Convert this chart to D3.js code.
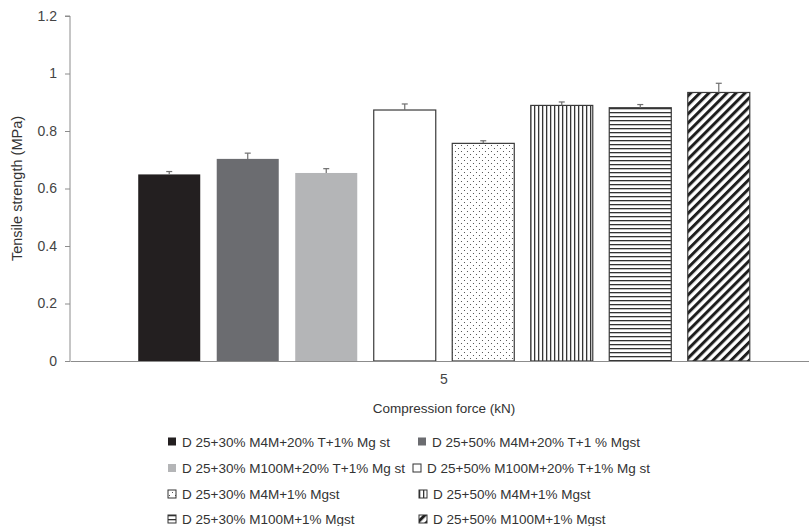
<!DOCTYPE html>
<html>
<head>
<meta charset="utf-8">
<script src="https://cdn.jsdelivr.net/npm/d3@7"></script>
<style>
  html, body { margin: 0; padding: 0; background: #fff; }
  svg { display: block; font-family: "Liberation Sans", Arial, sans-serif; }
</style>
</head>
<body>
<svg id="chart" width="809" height="526"></svg>
<script>
// Tensile strength at 5 kN compression force for eight formulations
const categories = ["5"];
const series = [
  "D 25+30% M4M+20% T+1% Mg st",
  "D 25+50% M4M+20% T+1 % Mgst",
  "D 25+30% M100M+20% T+1% Mg st",
  "D 25+50% M100M+20% T+1% Mg st",
  "D 25+30% M4M+1% Mgst",
  "D 25+50% M4M+1% Mgst",
  "D 25+30% M100M+1% Mgst",
  "D 25+50% M100M+1% Mgst"
];
const values = [0.649, 0.703, 0.654, 0.873, 0.757, 0.889, 0.881, 0.934];
const errors = [0.010, 0.020, 0.015, 0.021, 0.009, 0.012, 0.011, 0.032];
const yTicks = [0, 0.2, 0.4, 0.6, 0.8, 1, 1.2];
const yTickLabels = ["0", "0.2", "0.4", "0.6", "0.8", "1", "1.2"];

// fill per series: solid greys, then pattern ids
const fills = ["#231f20", "#6b6c70", "#b4b5b7", "#ffffff",
               "url(#pDots)", "url(#pVert)", "url(#pHoriz)", "url(#pDiag)"];
const outlined = [false, false, false, true, true, true, true, true];

const svg = d3.select("#chart");
const defs = svg.append("defs");

// dotted fill
const pd = defs.append("pattern").attr("id", "pDots").attr("patternUnits", "userSpaceOnUse")
  .attr("width", 6).attr("height", 6);
pd.append("rect").attr("width", 6).attr("height", 6).attr("fill", "#fff");
pd.append("rect").attr("x", 1).attr("y", 1).attr("width", 1).attr("height", 1).attr("fill", "#555");
pd.append("rect").attr("x", 4).attr("y", 4).attr("width", 1).attr("height", 1).attr("fill", "#555");

// vertical lines
const pv = defs.append("pattern").attr("id", "pVert").attr("patternUnits", "userSpaceOnUse")
  .attr("width", 4).attr("height", 4);
pv.append("rect").attr("width", 4).attr("height", 4).attr("fill", "#fff");
pv.append("rect").attr("x", 0).attr("width", 1.3).attr("height", 4).attr("fill", "#333");

// horizontal lines
const ph = defs.append("pattern").attr("id", "pHoriz").attr("patternUnits", "userSpaceOnUse")
  .attr("width", 4).attr("height", 4);
ph.append("rect").attr("width", 4).attr("height", 4).attr("fill", "#fff");
ph.append("rect").attr("y", 0).attr("width", 4).attr("height", 1.3).attr("fill", "#333");

// diagonal stripes
const pg = defs.append("pattern").attr("id", "pDiag").attr("patternUnits", "userSpaceOnUse")
  .attr("width", 6.4).attr("height", 6.4).attr("patternTransform", "rotate(45)");
pg.append("rect").attr("width", 6.4).attr("height", 6.4).attr("fill", "#fff");
pg.append("rect").attr("width", 3).attr("height", 6.4).attr("fill", "#1e1e1e");

// scales
const plotLeft = 70, plotRight = 818, plotTop = 16, plotBottom = 361;
const y = d3.scaleLinear().domain([0, 1.2]).range([plotBottom, plotTop]);
const x0 = d3.scaleBand().domain(categories).range([plotLeft, plotRight])
  .paddingInner(0).paddingOuter(0.0955);
const x1 = d3.scaleBand().domain(d3.range(series.length)).range([0, x0.bandwidth()])
  .paddingInner(0.21).paddingOuter(0.105);

// y axis
const yAxis = d3.axisLeft(y).tickValues(yTicks)
  .tickFormat((d, i) => yTickLabels[i]).tickSize(5).tickPadding(8);
const gy = svg.append("g").attr("transform", `translate(${plotLeft},0)`).call(yAxis);
gy.select(".domain").attr("stroke", "#8c8c8c").attr("d", `M-5,${plotTop}H0V${plotBottom}`);
gy.selectAll(".tick line").attr("stroke", "#8c8c8c");
gy.selectAll(".tick text").attr("fill", "#444").style("font-size", "14px")
  .style("font-family", "'Liberation Sans', Arial, sans-serif");

// bars
const g = svg.append("g").attr("transform", `translate(${x0(categories[0])},0)`);
g.selectAll("rect.bar").data(values).join("rect")
  .attr("class", "bar")
  .attr("x", (d, i) => x1(i))
  .attr("y", d => y(d))
  .attr("width", x1.bandwidth())
  .attr("height", d => y(0) - y(d))
  .attr("fill", (d, i) => fills[i])
  .attr("stroke", (d, i) => outlined[i] ? "#3a3a3a" : "none")
  .attr("stroke-width", 1.2);

// error bars (positive direction)
const eb = g.selectAll("g.err").data(values).join("g").attr("class", "err");
eb.append("line")
  .attr("x1", (d, i) => x1(i) + x1.bandwidth() / 2)
  .attr("x2", (d, i) => x1(i) + x1.bandwidth() / 2)
  .attr("y1", d => y(d))
  .attr("y2", (d, i) => y(d + errors[i]))
  .attr("stroke", "#6e6e6e").attr("stroke-width", 1.2);
eb.append("line")
  .attr("x1", (d, i) => x1(i) + x1.bandwidth() / 2 - 3)
  .attr("x2", (d, i) => x1(i) + x1.bandwidth() / 2 + 3)
  .attr("y1", (d, i) => y(d + errors[i]))
  .attr("y2", (d, i) => y(d + errors[i]))
  .attr("stroke", "#6e6e6e").attr("stroke-width", 1.2);

// x axis line
const xAxis = d3.axisBottom(x0).tickSize(0).tickPadding(13);
const gx = svg.append("g").attr("transform", `translate(0,${plotBottom})`).call(xAxis);
gx.select(".domain").attr("stroke", "#8c8c8c");
gx.selectAll(".tick text").attr("fill", "#444").style("font-size", "14px")
  .style("font-family", "'Liberation Sans', Arial, sans-serif");

// axis titles
svg.append("text")
  .attr("x", x0(categories[0]) + x0.bandwidth() / 2).attr("y", 413)
  .attr("text-anchor", "middle").attr("fill", "#333").style("font-size", "13.5px")
  .text("Compression force (kN)");
svg.append("text")
  .attr("transform", `translate(22,${(plotTop + plotBottom) / 2}) rotate(-90)`)
  .attr("text-anchor", "middle").attr("fill", "#333").style("font-size", "14.5px")
  .text("Tensile strength (MPa)");

// legend
const legendRows = [441.5, 468, 494, 519];
const legendPos = [
  [168, 0], [418, 0],
  [168, 1], [413, 1],
  [168, 2], [419, 2],
  [168, 3], [419, 3]
];
const lg = svg.append("g").selectAll("g").data(series).join("g")
  .attr("transform", (d, i) => `translate(${legendPos[i][0]},${legendRows[legendPos[i][1]]})`);
lg.append("rect")
  .attr("x", 0).attr("y", -4).attr("width", 8).attr("height", 8)
  .attr("fill", (d, i) => fills[i])
  .attr("stroke", (d, i) => outlined[i] ? "#333" : "none").attr("stroke-width", 1);
lg.append("text")
  .attr("x", 14).attr("y", 5)
  .attr("fill", "#333").style("font-size", "13.5px")
  .text(d => d);
</script>
</body>
</html>
